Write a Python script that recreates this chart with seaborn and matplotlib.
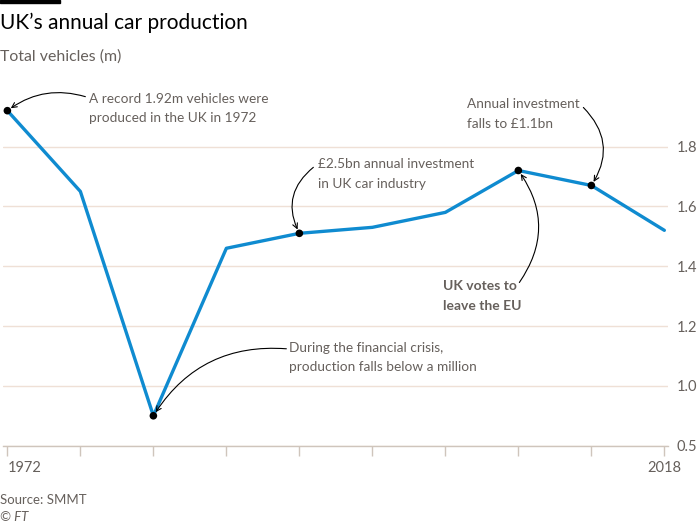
import matplotlib
matplotlib.use("Agg")
import matplotlib.pyplot as plt
from matplotlib.patches import Rectangle
import seaborn as sns

# Data (total vehicles, millions)
tick_labels = ["1972", "", "", "", "", "", "", "", "", "2018"]
production = [1.92, 1.65, 0.90, 1.46, 1.51, 1.53, 1.58, 1.72, 1.67, 1.52]
highlighted = [0, 2, 4, 7, 8]
y_ticks = [0.8, 1.0, 1.2, 1.4, 1.6, 1.8]
y_tick_labels = ["0.5", "1.0", "1.2", "1.4", "1.6", "1.8"]

positions = list(range(len(production)))

sns.set_theme(style="white")
plt.rcParams["font.family"] = ["Lato", "DejaVu Sans"]

grey = "#66605c"
blue = "#0f8bd0"

fig = plt.figure(figsize=(7, 5.27), dpi=100)
fig.patch.set_facecolor("white")
ax = fig.add_axes([3 / 700, 1 - 445.7 / 527, 665 / 700, 344 / 527])
ax.set_facecolor("white")

sns.lineplot(x=positions, y=production, color=blue, linewidth=2.4, ax=ax,
             zorder=3)
sns.scatterplot(x=[positions[i] for i in highlighted],
                y=[production[i] for i in highlighted],
                color="black", s=30, edgecolor="none", zorder=5, ax=ax,
                clip_on=False)

ax.set_xlim(-0.06, 9.05)
ax.set_ylim(0.8, 1.95)

# axes styling
for side in ["top", "left", "right"]:
    ax.spines[side].set_visible(False)
ax.spines["bottom"].set_color("#cfc5bc")
ax.spines["bottom"].set_linewidth(1)

ax.set_xticks(positions)
ax.set_xticklabels(tick_labels)
ax.tick_params(axis="x", direction="out", length=7, width=1, color="#cfc5bc",
               labelsize=10.5, labelcolor=grey, pad=4, bottom=True)
for lbl in ax.get_xticklabels():
    if lbl.get_text() == "1972":
        lbl.set_horizontalalignment("left")
        lbl.set_x(-0.1)

ax.yaxis.tick_right()
ax.set_yticks(y_ticks)
ax.set_yticklabels(y_tick_labels)
ax.tick_params(axis="y", length=0, labelsize=10.5, labelcolor=grey, pad=6)
ax.grid(axis="y", color="#efe0d6", linewidth=1)
ax.grid(axis="x", visible=False)
ax.set_xlabel("")
ax.set_ylabel("")

# annotations
arrow_kw = dict(arrowstyle="->", color="black", lw=0.8, mutation_scale=9,
                shrinkA=0, shrinkB=3)
notes = [
    (0, "A record 1.92m vehicles were\nproduced in the UK in 1972",
     (82, 18), (78, 14), 0.25, "normal"),
    (2, "During the financial crisis,\nproduction falls below a million",
     (136, 74), (133, 67), 0.3, "normal"),
    (4, "£2.5bn annual investment\nin UK car industry",
     (19, 75), (14, 66), 0.4, "normal"),
    (8, "Annual investment\nfalls to £1.1bn",
     (-124, 87), (-8, 78), -0.4, "normal"),
    (7, "UK votes to\nleave the EU",
     (-75, -110), (1, -112), 0.35, "bold"),
]
for idx, label, text_off, arrow_off, rad, weight in notes:
    pt = (positions[idx], production[idx])
    ax.annotate(label, xy=pt, xytext=text_off, textcoords="offset pixels",
                ha="left", va="top", fontsize=10 if weight == "bold" else 9.8,
                color=grey, fontweight=weight, linespacing=1.75,
                annotation_clip=False)
    ax.annotate("", xy=pt, xytext=arrow_off, textcoords="offset pixels",
                arrowprops=dict(connectionstyle=f"arc3,rad={rad}", **arrow_kw),
                annotation_clip=False)

# titles and footer
fig.patches.append(Rectangle((0, 1 - 3 / 527), 60 / 700, 3 / 527,
                             transform=fig.transFigure, color="black"))
fig.text(0, 1 - 23 / 527, "UK’s annual car production", fontsize=15,
         color="black", va="center", ha="left")
fig.text(0, 1 - 57 / 527, "Total vehicles (m)", fontsize=11.4, color=grey,
         va="center", ha="left")
fig.text(0, 1 - 500 / 527, "Source: SMMT", fontsize=9.5, color=grey,
         va="center", ha="left")
fig.text(0, 1 - 517 / 527, "© FT", fontsize=9.5, color=grey, style="italic",
         va="center", ha="left")

plt.savefig("out.png", dpi=100, facecolor="white")
